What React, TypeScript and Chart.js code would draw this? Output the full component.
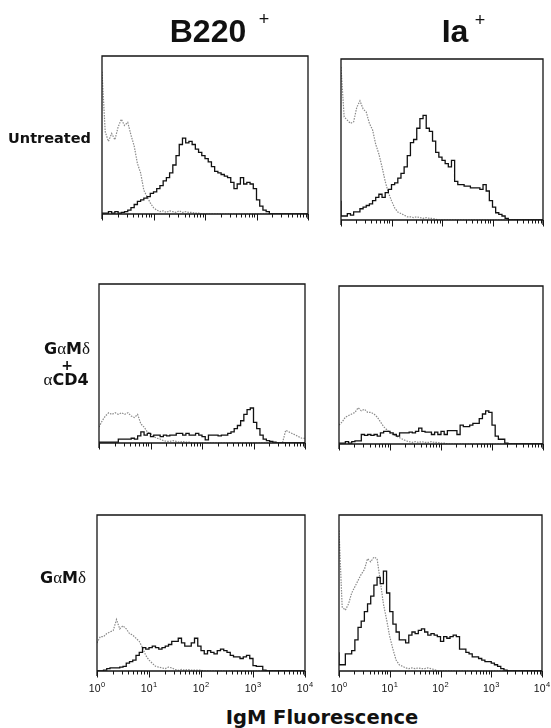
import React, { useEffect, useRef } from "react";
import { Chart, registerables } from "chart.js";

Chart.register(...registerables);

// ---- axis: 256 channels over four decades (10^0 .. 10^4), histogram bins of 4 channels ----
const channels = [
  0, 4, 8, 12, 16, 20, 24, 28, 32, 36, 40, 44, 48, 52, 56, 60, 64, 68, 72, 76, 80, 84, 88, 92, 96, 100,
  104, 108, 112, 116, 120, 124, 128, 132, 136, 140, 144, 148, 152, 156, 160, 164, 168, 172, 176, 180,
  184, 188, 192, 196, 200, 204, 208, 212, 216, 220, 224, 228, 232, 236, 240, 244, 248, 252, 256,
];
const decadeChannels = [0, 64, 128, 192, 256];
const decadeExponents = ["0", "1", "2", "3", "4"];
const minorFactors = [2, 3, 4, 5, 6, 7, 8, 9];

// ---- labels ----
const columnTitles = ["B220", "Ia"];
const axisTitle = "IgM Fluorescence";

// ---- series (relative cell counts per bin, 0..100) ----
// B220+ / Untreated
const b220UntreatedCtrl = [
  90, 52, 46, 51, 47, 55, 60, 56, 58, 50, 43, 32, 26, 15, 11, 7, 4, 2.5, 1.5, 2, 1, 2, 1.5, 1, 2, 1, 1.5, 1, 1, 0.5, 0.5,
  0, 0, 0, 0, 0, 0, 0, 0, 0, 0, 0, 0, 0, 0, 0, 0, 0, 0, 0, 0, 0, 0, 0, 0, 0, 0, 0, 0, 0, 0, 0, 0, 0,
];
const b220UntreatedIgM = [
  1, 0.5, 0.5, 1.5, 0.5, 1.5, 0.5, 1, 1.5, 2.5, 4, 6, 8, 9, 10, 11, 13, 14, 16, 18, 21, 23, 26, 31, 37, 44, 48, 45, 46, 44,
  41, 39, 37, 35, 33, 30, 27, 26, 25, 24, 23, 20, 16, 19, 23, 19, 20, 19, 16, 9, 5, 2.5, 1.5, 0, 0, 0, 0, 0, 0, 0, 0, 0, 0, 0,
];
// Ia+ / Untreated
const iaUntreatedCtrl = [
  95, 64, 62, 60, 61, 70, 74, 69, 67, 60, 56, 47, 41, 33, 24, 17, 12, 7.5, 5, 4, 3, 2, 2, 1.5, 2, 1.5, 1, 1.5, 1, 1,
  0.5, 0, 0, 0, 0, 0, 0, 0, 0, 0, 0, 0, 0, 0, 0, 0, 0, 0, 0, 0, 0, 0, 0, 0, 0, 0, 0, 0, 0, 0, 0, 0, 0, 0,
];
const iaUntreatedIgM = [
  12, 2.5, 2.5, 4, 3, 5, 5, 7, 8, 9, 10, 12, 14, 16, 14, 17, 19, 22, 23, 26, 29, 33, 40, 48, 50, 57, 63, 65, 57, 55,
  49, 42, 39, 37, 35, 33, 37, 24, 22, 22, 21, 21, 20, 20, 20, 19, 22, 18, 12, 8, 4.5, 3.5, 2.5, 1, 0, 0, 0, 0, 0, 0, 0, 0, 0, 0,
];
// B220+ / GaMd + aCD4
const b220CombCtrl = [
  10, 14, 17, 19, 18, 19, 18, 19, 18, 19, 17, 16, 18, 12, 10, 7, 6, 4, 3, 2.5, 1.5, 1, 1, 1.5, 1, 0.5, 1, 0.5, 0.5, 0,
  0, 0, 0, 0, 0, 0, 0, 0, 0, 0, 0, 0, 0, 0, 0, 0, 0, 0, 0, 0, 0, 0, 0, 0, 0, 0, 0, 0, 8, 7, 6, 5, 4, 3,
];
const b220CombIgM = [
  0.5, 0.5, 0.5, 0.5, 0.5, 0.5, 0.5, 2.5, 2.5, 2.5, 2.5, 3, 2.5, 4.5, 7, 5, 6, 4, 5, 5, 4, 5, 4.5, 5, 5, 6, 6, 5, 6, 5,
  5, 6, 5, 4, 2, 5, 5, 5, 4.5, 5, 5, 6, 7, 9, 11, 14, 18, 21, 22, 13, 9, 5, 2.5, 1.5, 1, 0.5, 0, 0, 0, 0, 0, 0, 0, 0,
];
// Ia+ / GaMd + aCD4
const iaCombCtrl = [
  12, 14, 17, 18, 19, 20, 23, 21, 22, 20, 20, 19, 17, 14, 11, 9, 7, 6, 5, 4, 3, 2, 1.5, 1, 1.5, 1, 1.5, 1, 1, 1.5,
  1, 1, 0.5, 0.5, 0, 0, 0, 0, 0, 0, 0, 0, 0, 0, 0, 0, 0, 0, 0, 0, 0, 0, 0, 0, 0, 0, 0, 0, 0, 0, 0, 0, 0, 0,
];
const iaCombIgM = [
  0.5, 0.5, 0.5, 1.5, 0.5, 1.5, 2, 2, 6, 5.5, 6, 5.5, 6, 5, 7, 8, 8, 7, 6, 5, 7, 7, 7, 7.5, 7, 8, 10, 8, 7.5, 7.5,
  6, 7.5, 6, 8, 6, 8.5, 8.5, 8.5, 6, 12, 11, 11, 12, 13, 13, 16, 19, 21, 20, 12, 5, 3, 3, 0.5, 0, 0, 0, 0, 0, 0, 0, 0, 0, 0,
];
// B220+ / GaMd
const b220GamdCtrl = [
  18, 22, 22, 24, 25, 26, 33, 27, 29, 27, 24, 23, 21, 19, 15, 10, 7, 5, 3, 2.5, 2, 1.5, 2.5, 2, 1, 0.5, 1, 0.5, 1, 0.5,
  0.5, 0.5, 0.5, 0, 0, 0, 0, 0, 0, 0, 0, 0, 0, 0, 0, 0, 0, 0, 0, 0, 0, 0, 0, 0, 0, 0, 0, 0, 0, 0, 0, 0, 0, 0,
];
const b220GamdIgM = [
  0, 0, 0, 0.5, 1.5, 2, 2, 2, 2.5, 3, 5, 6, 7, 10, 12, 15, 14, 15, 16, 15, 14, 15, 16, 17, 19, 19, 21, 18, 16, 16,
  18, 21, 16, 13, 11, 13, 12, 11, 13, 14, 13, 12, 10, 9, 9, 8, 9, 10, 8, 3.5, 3, 3, 0.5, 0, 0, 0, 0, 0, 0, 0, 0, 0, 0, 0,
];
// Ia+ / GaMd
const iaGamdCtrl = [
  90, 41, 39, 43, 50, 54, 58, 62, 65, 72, 70, 73, 72, 58, 43, 33, 22, 14, 7, 4, 3, 2, 1.5, 2, 1.5, 2, 1.5, 1.5, 2, 1.5,
  1, 0, 0, 0, 0, 0, 0, 0, 0, 0, 0, 0, 0, 0, 0, 0, 0, 0, 0, 0, 0, 0, 0, 0, 0, 0, 0, 0, 0, 0, 0, 0, 0, 0,
];
const iaGamdIgM = [
  12, 4, 4, 11, 11, 13, 20, 28, 32, 38, 43, 48, 55, 60, 56, 64, 50, 38, 30, 25, 20, 20, 18, 23, 25, 24, 26, 27, 25, 23,
  24, 23, 22, 19, 22, 21, 22, 23, 22, 14, 14, 12, 11, 9, 9, 8, 7, 6, 6, 5, 4, 3, 1.5, 0.5, 0, 0, 0, 0, 0, 0, 0, 0, 0, 0,
];

// ---- layout ----
const PAGE_W = 551;
const PAGE_H = 728;
const PAD = { left: 12, right: 12, top: 10, bottom: 28 };

type PanelDef = { l: number; t: number; r: number; b: number; ctrl: number[]; igm: number[]; labels: boolean };

const PANELS: PanelDef[] = [
  { l: 102, t: 56, r: 308, b: 214, ctrl: b220UntreatedCtrl, igm: b220UntreatedIgM, labels: false },
  { l: 341, t: 59, r: 543, b: 220, ctrl: iaUntreatedCtrl, igm: iaUntreatedIgM, labels: false },
  { l: 99, t: 284, r: 305, b: 443, ctrl: b220CombCtrl, igm: b220CombIgM, labels: false },
  { l: 339, t: 286, r: 543, b: 444, ctrl: iaCombCtrl, igm: iaCombIgM, labels: false },
  { l: 97, t: 515, r: 305, b: 671, ctrl: b220GamdCtrl, igm: b220GamdIgM, labels: true },
  { l: 339, t: 515, r: 542, b: 671, ctrl: iaGamdCtrl, igm: iaGamdIgM, labels: true },
];

const toPoints = (vals: number[]) =>
  channels.map((c, i) => ({ x: c, y: vals[Math.min(i, vals.length - 1)] }));

const axisFramePlugin = {
  id: "axisFrame",
  afterDatasetsDraw(chart: any, _args: any, opts: any) {
    const { ctx, chartArea } = chart;
    const { left, right, top, bottom } = chartArea;
    const x = chart.scales.x;
    ctx.save();
    ctx.strokeStyle = "#151515";
    ctx.lineWidth = 1.3;
    ctx.beginPath();
    ctx.moveTo(left, bottom + 5);
    ctx.lineTo(left, top);
    ctx.lineTo(right, top);
    ctx.lineTo(right, bottom + 5);
    ctx.moveTo(left, bottom);
    ctx.lineTo(right, bottom);
    ctx.stroke();

    ctx.lineWidth = 1;
    ctx.beginPath();
    for (let d = 0; d < 4; d++) {
      for (const k of minorFactors) {
        const px = Math.round(x.getPixelForValue(decadeChannels[d] + 64 * Math.log10(k))) + 0.5;
        ctx.moveTo(px, bottom);
        ctx.lineTo(px, bottom + 3.5);
      }
    }
    for (const c of decadeChannels) {
      const px = Math.round(x.getPixelForValue(c)) + 0.5;
      ctx.moveTo(px, bottom);
      ctx.lineTo(px, bottom + 6.5);
    }
    ctx.stroke();

    if (opts && opts.labels) {
      ctx.fillStyle = "#111";
      ctx.textAlign = "left";
      ctx.textBaseline = "alphabetic";
      const big = '10.5px "Liberation Sans", Arial, sans-serif';
      const small = '7.5px "Liberation Sans", Arial, sans-serif';
      decadeChannels.forEach((c, i) => {
        const px = x.getPixelForValue(c);
        ctx.font = big;
        const w1 = ctx.measureText("10").width;
        ctx.font = small;
        const w2 = ctx.measureText(decadeExponents[i]).width;
        const start = px - (w1 + w2 + 0.5) / 2;
        ctx.font = big;
        ctx.fillText("10", start, bottom + 21);
        ctx.font = small;
        ctx.fillText(decadeExponents[i], start + w1 + 0.5, bottom + 16);
      });
    }
    ctx.restore();
  },
};

function Panel({ def }: { def: PanelDef }) {
  const ref = useRef<HTMLCanvasElement | null>(null);
  const w = def.r - def.l + PAD.left + PAD.right;
  const h = def.b - def.t + PAD.top + PAD.bottom;
  useEffect(() => {
    if (!ref.current) return;
    const chart = new Chart(ref.current, {
      type: "line",
      data: {
        datasets: [
          {
            label: "IgM",
            data: toPoints(def.igm),
            stepped: "after",
            borderColor: "#111111",
            borderWidth: 1.3,
            pointRadius: 0,
            fill: false,
          },
          {
            label: "control",
            data: toPoints(def.ctrl),
            stepped: false,
            tension: 0,
            borderColor: "#8a8a8a",
            borderWidth: 1.2,
            borderDash: [1.5, 1.2],
            pointRadius: 0,
            fill: false,
          },
        ],
      },
      options: {
        animation: false,
        responsive: false,
        events: [],
        layout: { padding: PAD },
        scales: {
          x: { type: "linear", min: 0, max: 256, display: false },
          y: { type: "linear", min: 0, max: 100, display: false },
        },
        plugins: {
          legend: { display: false },
          tooltip: { enabled: false },
          axisFrame: { labels: def.labels },
        } as any,
      },
      plugins: [axisFramePlugin],
    } as any);
    return () => chart.destroy();
  }, [def]);
  return (
    <canvas
      ref={ref}
      width={w}
      height={h}
      style={{ position: "absolute", left: def.l - PAD.left, top: def.t - PAD.top, width: w, height: h }}
    />
  );
}

type TxtProps = {
  x: number;
  baseline: number;
  size: number;
  align: "left" | "center" | "right";
  family: string;
  weight?: number | string;
  children: React.ReactNode;
};

function Txt({ x, baseline, size, align, family, weight = "normal", children }: TxtProps) {
  const style: React.CSSProperties = {
    position: "absolute",
    top: baseline - 0.846 * size,
    fontSize: size,
    lineHeight: `${size}px`,
    fontFamily: family,
    fontWeight: weight as any,
    whiteSpace: "nowrap",
    color: "#111",
  };
  if (align === "center") {
    style.left = x;
    style.transform = "translateX(-50%)";
  } else if (align === "right") {
    style.right = PAGE_W - x;
  } else {
    style.left = x;
  }
  return <div style={style}>{children}</div>;
}

const SANS = '"Liberation Sans", Arial, sans-serif';
const BOLD_LABEL = '"DejaVu Sans", "Liberation Sans", sans-serif';
const GREEK = '"Liberation Serif", "DejaVu Serif", serif';

function Greek({ ch, size }: { ch: string; size: number }) {
  return <span style={{ fontFamily: GREEK, fontWeight: "normal", fontSize: size }}>{ch}</span>;
}

export default function App() {
  return (
    <div
      style={{
        position: "absolute",
        left: 0,
        top: 0,
        width: PAGE_W,
        height: PAGE_H,
        overflow: "hidden",
        background: "#fff",
      }}
    >
      {PANELS.map((p, i) => (
        <Panel key={i} def={p} />
      ))}

      <Txt x={208} baseline={42} size={32} align="center" family={SANS} weight="bold">
        {columnTitles[0]}
      </Txt>
      <Txt x={264} baseline={25.5} size={18} align="center" family={SANS}>
        +
      </Txt>
      <Txt x={455} baseline={42} size={32} align="center" family={SANS} weight="bold">
        {columnTitles[1]}
      </Txt>
      <Txt x={480} baseline={26} size={18} align="center" family={SANS}>
        +
      </Txt>

      <Txt x={91} baseline={143} size={14.5} align="right" family={BOLD_LABEL} weight="bold">
        Untreated
      </Txt>

      <Txt x={67} baseline={355} size={16} align="center" family={BOLD_LABEL} weight="bold">
        G<Greek ch="α" size={17} />M<Greek ch="δ" size={17} />
      </Txt>
      <Txt x={67} baseline={370} size={14} align="center" family={BOLD_LABEL} weight="bold">
        +
      </Txt>
      <Txt x={66} baseline={386} size={16} align="center" family={BOLD_LABEL} weight="bold">
        <Greek ch="α" size={17} />CD4
      </Txt>

      <Txt x={63} baseline={584} size={16} align="center" family={BOLD_LABEL} weight="bold">
        G<Greek ch="α" size={17} />M<Greek ch="δ" size={17} />
      </Txt>

      <Txt x={322} baseline={724} size={19.5} align="center" family={BOLD_LABEL} weight="bold">
        {axisTitle}
      </Txt>
    </div>
  );
}
